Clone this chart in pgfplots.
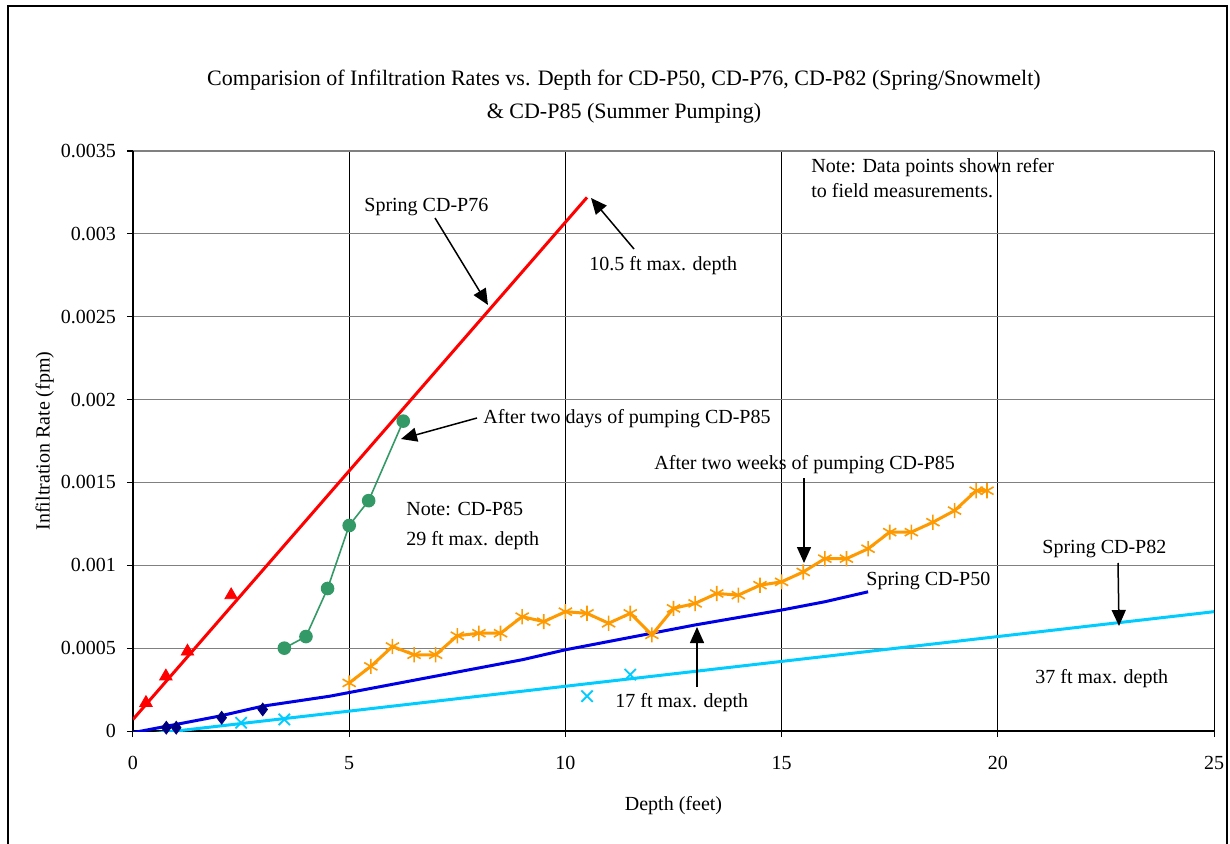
\documentclass[border=0pt]{standalone}
\usepackage{fontspec}
\setmainfont{Liberation Serif}
\usepackage{pgfplots}
\pgfplotsset{compat=1.18}
\usetikzlibrary{arrows.meta}
\definecolor{cRed}{RGB}{255,0,0}
\definecolor{cGreen}{RGB}{51,153,102}
\definecolor{cNavy}{RGB}{0,0,128}
\definecolor{cBlue}{RGB}{0,0,230}
\definecolor{cCyan}{RGB}{0,204,255}
\definecolor{cOrange}{RGB}{255,153,0}
\begin{document}
\begin{tikzpicture}[x=0.5pt,y=-0.5pt,
  ann/.style={font=\fontsize{10}{12}\selectfont, inner sep=0pt, anchor=base west},
  arr/.style={line width=0.75pt, -{Triangle[length=8pt,width=7pt]}}]
\useasboundingbox (0,0) rectangle (1230,844);
\draw[line width=0.6pt] (8,6) rectangle (1227,900);
\begin{axis}[
  at={(66.5pt,-365.5pt)}, anchor=south west,
  scale only axis, width=540.5pt, height=290pt,
  xmin=0, xmax=25, ymin=0, ymax=0.0035,
  xtick={0,5,10,15,20,25},
  ytick={0,0.0005,0.001,0.0015,0.002,0.0025,0.003,0.0035},
  yticklabels={0,0.0005,0.001,0.0015,0.002,0.0025,0.003,0.0035},
  xticklabels={0,5,10,15,20,25},
  scaled y ticks=false,
  tick label style={font=\fontsize{10}{12}\selectfont},
  xticklabel style={yshift=-6pt},
  yticklabel style={xshift=-2pt},
  tick align=outside, major tick length=3pt,
  tick style={black, line width=0.5pt},
  separate axis lines,
  axis x line*=bottom, axis y line*=left,
  axis line style={black, line width=0.6pt, -},
  grid=major,
  x grid style={black, line width=0.5pt},
  y grid style={gray, line width=0.6pt},
  xlabel={Depth (feet)}, ylabel={Infiltration Rate (fpm)},
  label style={font=\fontsize{10}{12}\selectfont},
  xlabel style={at={(axis description cs:0.5,0)}, anchor=north, yshift=-29pt},
  ylabel style={at={(axis description cs:0,0.5)}, anchor=south, yshift=36pt},
  clip=true,
]
% Spring CD-P82 line (cyan)
\addplot[cCyan, line width=1.5pt] coordinates {(0,-0.00003) (25,0.00072)};
% Spring CD-P50 line (blue)
\addplot[cBlue, line width=1.5pt] coordinates {(0,-0.00001) (2,0.00009) (3,0.00015) (4.55,0.00021) (9,0.00043) (10,0.00049) (13,0.00064) (15,0.00073) (16,0.00078) (17,0.00084)};
% Spring CD-P76 line (red)
\addplot[cRed, line width=1.5pt] coordinates {(0,0.00007) (10.5,0.00322)};
% CD-P82 field points
\addplot[only marks, cCyan, mark=x, mark size=4pt, line width=0.9pt] coordinates {(2.5,0.00005) (3.5,0.00007) (10.5,0.00021) (11.5,0.00034)};
% CD-P50 field points
\addplot[only marks, cNavy, mark=diamond*, mark size=3.2pt] coordinates {(0.77,0.00002) (1.0,0.00002) (2.05,0.00008) (3.0,0.00013)};
% CD-P76 field points
\addplot[only marks, cRed, mark=triangle*, mark size=3.6pt] coordinates {(0.3,0.00017) (0.76,0.00033) (1.26,0.00048) (2.27,0.00082)};
% After two days of pumping CD-P85
\addplot[cGreen, line width=0.8pt, mark=*, mark size=3pt] coordinates {(3.5,0.0005) (4.0,0.00057) (4.5,0.00086) (5.0,0.00124) (5.45,0.00139) (6.25,0.00187)};
% After two weeks of pumping CD-P85
\addplot[cOrange, line width=1.5pt, mark=asterisk, mark size=3.8pt, mark options={line width=0.8pt}] coordinates {
(5.0,0.00029) (5.5,0.00039) (6.0,0.00051) (6.5,0.00046) (7.0,0.00046) (7.5,0.000575) (8.0,0.00059) (8.5,0.00059) (9.0,0.00069) (9.5,0.00066) (10.0,0.00072) (10.5,0.00071) (11.0,0.00065) (11.5,0.00071) (12.0,0.00058) (12.5,0.00074) (13.0,0.00077) (13.5,0.00083) (14.0,0.00082) (14.5,0.00088) (15.0,0.0009) (15.5,0.00096) (16.0,0.00104) (16.5,0.00104) (17.0,0.0011) (17.5,0.0012) (18.0,0.0012) (18.5,0.00126) (19.0,0.00133) (19.5,0.00145) (19.75,0.00145)};
\end{axis}
% title
\node[align=center, font=\fontsize{11}{16.5}\selectfont, inner sep=0pt] at (624,97) {Comparision of Infiltration Rates vs. Depth for CD-P50, CD-P76, CD-P82 (Spring/Snowmelt)\\ \& CD-P85 (Summer Pumping)};
% annotations
\node[ann] at (364,212) {Spring CD-P76};
\draw[arr] (435,218) -- (488,305);
\node[ann] at (589,271) {10.5 ft max. depth};
\draw[arr] (634,249) -- (591,198);
\node[ann] at (811,173) {Note: Data points shown refer};
\node[ann] at (811,198) {to field measurements.};
\node[ann] at (483,423) {After two days of pumping CD-P85};
\draw[arr] (477,418) -- (401,439);
\node[ann] at (654,469) {After two weeks of pumping CD-P85};
\draw[arr] (804,478) -- (804,563);
\node[ann] at (406,515) {Note: CD-P85};
\node[ann] at (406,545) {29 ft max. depth};
\node[ann] at (866,585) {Spring CD-P50};
\node[ann] at (1042,553) {Spring CD-P82};
\draw[arr] (1118,563) -- (1119,626);
\node[ann] at (1035,683) {37 ft max. depth};
\node[ann] at (615,707) {17 ft max. depth};
\draw[arr] (697,687) -- (697,627);
\end{tikzpicture}
\end{document}
